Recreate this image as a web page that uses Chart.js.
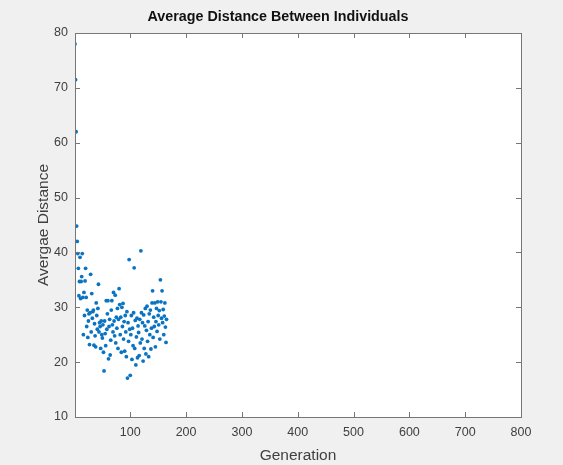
<!DOCTYPE html>
<html>
<head>
<meta charset="utf-8">
<title>Average Distance Between Individuals</title>
<script src="https://cdn.jsdelivr.net/npm/chart.js@4"></script>
<style>
  html, body { margin: 0; padding: 0; background: #f0f0f0; }
  #wrap { width: 563px; height: 465px; }
</style>
</head>
<body>
<div id="wrap"><canvas id="chart" width="563" height="465"></canvas></div>
<script>
// average distance per generation (generation 1 first)
const distances = [
  78.0, 71.5, 62.0, 44.8, 42.0, 39.8, 37.1, 32.1, 34.7, 39.1,
  31.6, 34.7, 35.6, 39.8, 31.8, 25.0, 32.7, 28.5, 34.8, 37.1,
  31.8, 26.5, 29.5, 24.5, 27.5, 28.8, 23.2, 29.0, 36.0, 25.5,
  32.5, 28.0, 29.2, 29.5, 23.1, 27.0, 24.8, 22.8, 30.8, 28.5,
  26.0, 29.8, 34.2, 25.5, 27.2, 26.5, 22.5, 27.5, 25.0, 24.4,
  26.8, 21.8, 18.4, 27.5, 25.2, 23.0, 31.2, 26.0, 28.8, 31.2,
  20.6, 26.5, 27.8, 21.3, 24.0, 29.5, 31.2, 26.8, 25.5, 32.7,
  27.5, 24.8, 32.2, 23.5, 28.2, 26.2, 29.8, 22.5, 27.8, 33.4,
  30.5, 25.0, 28.2, 21.8, 30.0, 26.5, 30.7, 24.2, 27.4, 22.0,
  28.5, 25.5, 21.0, 29.2, 17.1, 27.2, 23.8, 38.7, 26.0, 17.6,
  25.0, 28.5, 20.5, 26.2, 23.0, 29.0, 37.2, 22.5, 27.6, 19.5,
  24.6, 28.0, 20.8, 26.6, 25.4, 21.2, 27.8, 23.5, 40.3, 29.0,
  24.2, 27.2, 20.2, 28.6, 22.5, 26.6, 29.8, 21.5, 25.8, 30.2,
  23.8, 27.4, 21.0, 28.8, 25.0, 29.5, 22.4, 26.2, 30.8, 33.0,
  24.5, 28.2, 26.5, 30.8, 22.8, 27.4, 29.8, 25.6, 31.0, 28.5,
  26.8, 29.4, 24.2, 35.0, 31.0, 28.0, 33.0, 27.2, 29.6, 25.0,
  28.4, 30.8, 26.4, 23.6, 27.8
];
const generations = distances.map((_, i) => i + 1);

const xTicks = [100, 200, 300, 400, 500, 600, 700, 800];
const yTicks = [10, 20, 30, 40, 50, 60, 70, 80];

const titleText = 'Average Distance Between Individuals';
const axisColor = '#767676';
const textColor = '#404040';
const fontFamily = '"Liberation Sans", Arial, Helvetica, sans-serif';

// grey figure background, white axes area, box, inward ticks and title
const matlabAxes = {
  id: 'matlabAxes',
  beforeDraw(chart) {
    const { ctx, chartArea: a } = chart;
    ctx.save();
    ctx.fillStyle = '#f0f0f0';
    ctx.fillRect(0, 0, chart.width, chart.height);
    ctx.fillStyle = '#ffffff';
    ctx.fillRect(a.left, a.top, a.right - a.left, a.bottom - a.top);
    ctx.restore();
  },
  afterDatasetsDraw(chart) {
    const { ctx, chartArea: a, scales } = chart;
    const len = 5;
    ctx.save();
    ctx.strokeStyle = axisColor;
    ctx.lineWidth = 1;
    ctx.beginPath();
    xTicks.forEach(v => {
      const x = Math.round(scales.x.getPixelForValue(v)) + 0.5;
      ctx.moveTo(x, a.bottom); ctx.lineTo(x, a.bottom - len);
      ctx.moveTo(x, a.top); ctx.lineTo(x, a.top + len);
    });
    yTicks.forEach(v => {
      const y = Math.round(scales.y.getPixelForValue(v)) + 0.5;
      ctx.moveTo(a.left, y); ctx.lineTo(a.left + len, y);
      ctx.moveTo(a.right, y); ctx.lineTo(a.right - len, y);
    });
    ctx.stroke();
    ctx.strokeRect(Math.round(a.left) + 0.5, Math.round(a.top) + 0.5,
      Math.round(a.right - a.left), Math.round(a.bottom - a.top));

    ctx.fillStyle = '#111111';
    ctx.font = 'bold 14.3px ' + fontFamily;
    ctx.textAlign = 'center';
    ctx.textBaseline = 'middle';
    ctx.fillText(titleText, 278, 17);
    ctx.restore();
  }
};

new Chart(document.getElementById('chart'), {
  type: 'scatter',
  data: {
    datasets: [{
      label: 'Average distance',
      data: generations.map((g, i) => ({ x: g, y: distances[i] })),
      backgroundColor: '#0a74c2',
      borderWidth: 0,
      pointRadius: 1.9,
      pointHoverRadius: 1.9
    }]
  },
  options: {
    responsive: false,
    animation: false,
    layout: { padding: { left: 0, right: 42, top: 33, bottom: 0 } },
    plugins: {
      legend: { display: false },
      tooltip: { enabled: false },
      title: { display: false }
    },
    scales: {
      x: {
        type: 'linear',
        min: 1,
        max: 800,
        afterBuildTicks: s => { s.ticks = xTicks.map(v => ({ value: v })); },
        afterFit: s => { s.height = 48; },
        grid: { display: false, drawTicks: false },
        border: { display: false },
        ticks: {
          color: textColor,
          padding: 8,
          maxRotation: 0,
          font: { family: fontFamily, size: 12.5 }
        },
        title: {
          display: true,
          text: 'Generation',
          color: textColor,
          font: { family: fontFamily, size: 15.5 },
          padding: { top: 0, bottom: 0 }
        }
      },
      y: {
        min: 10,
        max: 80,
        afterBuildTicks: s => { s.ticks = yTicks.map(v => ({ value: v })); },
        afterFit: s => { s.width = 75; },
        grid: { display: false, drawTicks: false },
        border: { display: false },
        ticks: {
          color: textColor,
          padding: 7,
          font: { family: fontFamily, size: 12.5 }
        },
        title: {
          display: true,
          text: 'Avergae Distance',
          color: textColor,
          font: { family: fontFamily, size: 15.5 },
          padding: { top: 34, bottom: 0 }
        }
      }
    }
  },
  plugins: [matlabAxes]
});
</script>
</body>
</html>
